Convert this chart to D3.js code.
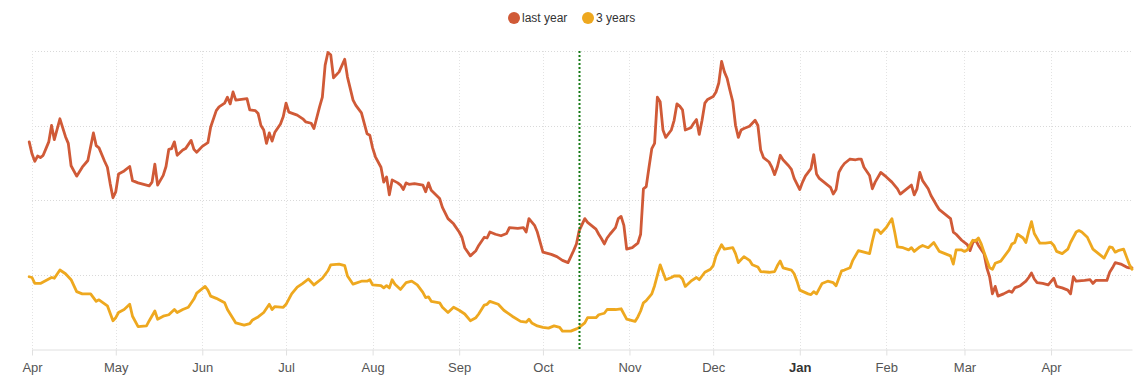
<!DOCTYPE html>
<html>
<head>
<meta charset="utf-8">
<script src="https://cdn.jsdelivr.net/npm/d3@7"></script>
<style>
  html, body { margin: 0; padding: 0; background: #fff; }
  svg { display: block; font-family: "Liberation Sans", Arial, sans-serif; }
</style>
</head>
<body>
<div id="chart"></div>
<script>
// period start; each point is [days after start, value]
var startDate = new Date(2022, 3, 1);
var endDate = new Date(2023, 3, 30);
var markerDate = new Date(2022, 9, 14);

var seriesNames = ["last year", "3 years"];
var seriesColors = ["#d05a37", "#eea81f"];

var lastYear = [[-1,2.78],[0,2.62],[1,2.52],[2,2.59],[3,2.57],[4,2.60],[5,2.69],[6,2.78],[7,3.00],[8,2.81],[10,3.09],[12,2.85],[13,2.76],[14,2.46],[16,2.32],[18,2.44],[20,2.53],[22,2.90],[23,2.73],[24,2.70],[26,2.52],[27,2.44],[28,2.22],[29,2.03],[30,2.11],[31,2.35],[33,2.39],[35,2.45],[36,2.26],[38,2.23],[42,2.19],[43,2.24],[44,2.48],[45,2.20],[47,2.33],[48,2.45],[49,2.68],[50,2.69],[51,2.78],[52,2.60],[54,2.67],[55,2.69],[57,2.80],[58,2.68],[59,2.64],[61,2.72],[63,2.77],[64,2.98],[66,3.20],[67,3.25],[69,3.30],[70,3.38],[71,3.29],[72,3.45],[73,3.34],[75,3.35],[77,3.36],[78,3.21],[80,3.20],[81,3.16],[82,3.00],[83,2.94],[84,2.76],[85,2.90],[86,2.79],[87,2.91],[89,3.02],[90,3.12],[91,3.30],[92,3.18],[95,3.14],[97,3.09],[98,3.05],[100,3.03],[101,2.96],[103,3.25],[104,3.38],[105,3.81],[106,3.98],[107,3.95],[108,3.64],[110,3.72],[112,3.89],[113,3.65],[115,3.34],[116,3.27],[118,3.17],[120,2.89],[121,2.87],[122,2.70],[123,2.58],[125,2.44],[126,2.24],[127,2.31],[128,2.07],[129,2.27],[131,2.23],[132,2.20],[133,2.14],[134,2.23],[135,2.21],[137,2.22],[140,2.20],[141,2.11],[142,2.23],[143,2.13],[146,2.02],[147,1.90],[149,1.75],[151,1.68],[153,1.57],[154,1.50],[155,1.36],[157,1.25],[159,1.32],[160,1.39],[162,1.50],[163,1.49],[164,1.57],[166,1.54],[168,1.52],[170,1.55],[171,1.63],[174,1.62],[176,1.63],[177,1.57],[178,1.75],[180,1.66],[181,1.57],[183,1.30],[186,1.27],[188,1.24],[190,1.19],[192,1.16],[194,1.32],[195,1.41],[196,1.59],[198,1.75],[199,1.70],[202,1.61],[203,1.54],[204,1.48],[205,1.41],[206,1.49],[207,1.54],[209,1.63],[210,1.75],[211,1.78],[212,1.66],[213,1.34],[215,1.36],[216,1.39],[217,1.42],[218,1.54],[219,2.15],[220,2.18],[221,2.44],[222,2.69],[223,2.76],[224,3.38],[225,3.32],[226,2.94],[227,2.84],[229,2.94],[230,3.07],[231,3.29],[232,3.26],[233,3.21],[234,2.94],[236,2.97],[237,3.03],[238,3.08],[239,2.88],[240,3.07],[241,3.30],[242,3.35],[244,3.39],[245,3.45],[246,3.57],[247,3.86],[248,3.72],[249,3.63],[250,3.47],[251,3.32],[252,3.00],[253,2.84],[254,2.94],[255,2.96],[257,2.99],[259,3.07],[260,3.00],[261,2.67],[262,2.57],[264,2.51],[265,2.44],[266,2.34],[267,2.45],[268,2.60],[269,2.54],[271,2.46],[272,2.41],[273,2.29],[275,2.14],[276,2.24],[277,2.32],[279,2.42],[280,2.61],[281,2.35],[282,2.29],[284,2.23],[286,2.17],[287,2.08],[288,2.14],[289,2.37],[290,2.44],[291,2.49],[293,2.55],[295,2.54],[296,2.55],[297,2.55],[298,2.44],[300,2.33],[301,2.15],[302,2.24],[304,2.37],[306,2.31],[308,2.24],[310,2.15],[311,2.08],[313,2.14],[315,2.20],[316,2.07],[317,2.15],[318,2.37],[319,2.26],[321,2.15],[322,2.06],[324,1.93],[325,1.87],[327,1.81],[329,1.75],[330,1.57],[331,1.54],[333,1.46],[335,1.40],[336,1.32],[337,1.43],[338,1.46],[339,1.39],[341,1.28],[342,1.09],[343,0.97],[344,0.74],[345,0.84],[346,0.71],[348,0.74],[350,0.78],[351,0.76],[352,0.82],[354,0.85],[356,0.91],[357,0.96],[358,1.02],[359,0.94],[360,0.89],[362,0.88],[364,0.86],[366,0.95],[367,0.84],[369,0.82],[371,0.79],[372,0.74],[373,0.97],[374,0.91],[377,0.92],[379,0.93],[380,0.88],[381,0.92],[385,0.92],[386,1.03],[387,1.09],[388,1.16],[390,1.14],[392,1.10],[393,1.09],[394,1.09]];

var threeYears = [[-1,0.97],[0,0.96],[1,0.88],[3,0.88],[5,0.92],[7,0.96],[8,0.95],[10,1.06],[12,1.01],[14,0.93],[16,0.77],[18,0.74],[21,0.74],[23,0.64],[24,0.66],[27,0.58],[29,0.38],[30,0.42],[31,0.49],[33,0.53],[35,0.60],[36,0.44],[38,0.30],[41,0.31],[42,0.38],[44,0.51],[45,0.40],[47,0.44],[49,0.46],[51,0.53],[52,0.49],[54,0.53],[56,0.56],[58,0.67],[59,0.75],[60,0.78],[62,0.84],[63,0.79],[64,0.71],[66,0.68],[69,0.62],[70,0.53],[73,0.35],[76,0.32],[78,0.34],[79,0.39],[81,0.43],[83,0.49],[85,0.60],[86,0.53],[87,0.57],[90,0.56],[91,0.60],[93,0.74],[95,0.83],[97,0.88],[99,0.94],[101,0.86],[102,0.89],[104,0.95],[106,1.05],[107,1.13],[110,1.14],[112,1.12],[113,0.98],[115,0.87],[118,0.91],[120,0.91],[121,0.93],[122,0.86],[125,0.85],[126,0.82],[127,0.85],[128,0.82],[129,0.93],[130,0.87],[132,0.80],[134,0.89],[136,0.91],[138,0.86],[140,0.76],[141,0.69],[142,0.70],[143,0.64],[146,0.62],[147,0.56],[149,0.49],[151,0.56],[153,0.52],[155,0.47],[157,0.38],[159,0.42],[160,0.47],[162,0.59],[163,0.60],[164,0.64],[167,0.60],[169,0.52],[172,0.44],[175,0.37],[177,0.36],[178,0.40],[179,0.35],[181,0.31],[183,0.29],[185,0.28],[187,0.31],[189,0.29],[190,0.24],[192,0.24],[193,0.24],[195,0.27],[196,0.29],[198,0.35],[199,0.42],[202,0.42],[203,0.46],[205,0.48],[206,0.53],[209,0.53],[211,0.54],[213,0.40],[214,0.39],[216,0.37],[217,0.43],[218,0.51],[219,0.62],[220,0.65],[222,0.74],[223,0.85],[225,1.13],[226,1.03],[227,0.93],[229,0.96],[230,0.98],[232,0.98],[233,0.94],[234,0.84],[236,0.91],[238,0.96],[239,0.93],[241,1.03],[243,1.07],[244,1.12],[245,1.25],[247,1.40],[248,1.34],[251,1.36],[252,1.28],[253,1.16],[255,1.24],[257,1.19],[258,1.13],[260,1.10],[261,1.04],[264,1.03],[266,1.04],[267,1.12],[268,1.18],[269,1.09],[272,1.06],[273,1.01],[274,0.91],[275,0.79],[278,0.74],[279,0.73],[280,0.77],[281,0.74],[283,0.88],[285,0.91],[287,0.89],[288,0.85],[290,1.05],[291,1.06],[293,1.09],[294,1.19],[296,1.32],[298,1.30],[300,1.28],[301,1.45],[302,1.60],[303,1.60],[304,1.55],[306,1.63],[308,1.75],[309,1.57],[310,1.37],[312,1.36],[314,1.33],[315,1.36],[316,1.31],[318,1.37],[319,1.39],[321,1.36],[323,1.43],[325,1.31],[327,1.28],[329,1.25],[330,1.14],[331,1.33],[333,1.33],[334,1.31],[335,1.33],[337,1.46],[338,1.45],[339,1.49],[340,1.41],[341,1.30],[343,1.09],[344,1.07],[345,1.15],[347,1.18],[348,1.23],[350,1.33],[351,1.41],[352,1.43],[353,1.54],[355,1.49],[356,1.43],[357,1.58],[358,1.71],[359,1.55],[361,1.42],[363,1.42],[365,1.43],[366,1.39],[367,1.31],[369,1.28],[371,1.34],[372,1.43],[374,1.57],[375,1.59],[376,1.57],[378,1.50],[380,1.34],[382,1.28],[384,1.22],[386,1.37],[387,1.36],[388,1.30],[389,1.32],[391,1.34],[392,1.24],[393,1.14],[394,1.07]];

var yTicks = [0, 1, 2, 3, 4];

var width = 1147, height = 388;
var margin = {top: 51, right: 15, bottom: 39, left: 32};

var svg = d3.select("#chart").append("svg")
    .attr("width", width)
    .attr("height", height);

var x = d3.scaleTime()
    .domain([startDate, endDate])
    .range([margin.left, width - margin.right]);

var y = d3.scaleLinear()
    .domain([0, 4])
    .range([height - margin.bottom, margin.top]);

var toDate = function(d) { return d3.timeDay.offset(startDate, d[0]); };

var months = x.ticks(d3.timeMonth.every(1));

// grid
svg.append("g").selectAll("line")
    .data(yTicks.slice(1))
  .enter().append("line")
    .attr("x1", x.range()[0]).attr("x2", x.range()[1])
    .attr("y1", function(d){ return Math.round(y(d)) + 0.5; })
    .attr("y2", function(d){ return Math.round(y(d)) + 0.5; })
    .attr("stroke", "#d9d9d9")
    .attr("stroke-dasharray", "1,2");

svg.append("g").selectAll("line")
    .data(months)
  .enter().append("line")
    .attr("x1", function(d){ return Math.round(x(d)) + 0.5; })
    .attr("x2", function(d){ return Math.round(x(d)) + 0.5; })
    .attr("y1", y(4)).attr("y2", y(0))
    .attr("stroke", "#e3e3e3")
    .attr("stroke-dasharray", "1,2");

// x axis
var xAxis = d3.axisBottom(x)
    .tickValues(months)
    .tickSize(6)
    .tickSizeOuter(0)
    .tickPadding(7)
    .tickFormat(d3.timeFormat("%b"));

var gx = svg.append("g")
    .attr("transform", "translate(0," + (Math.round(y(0)) + 0.5) + ")")
    .call(xAxis);
gx.select(".domain").attr("stroke", "#e0e0e0");
gx.selectAll(".tick line").attr("stroke", "#e0e0e0");
gx.selectAll(".tick text")
    .style("font-size", "13px")
    .style("font-family", "'Liberation Sans', Arial, sans-serif")
    .style("font-weight", function(d){ return d.getMonth() === 0 ? "bold" : "normal"; })
    .attr("fill", function(d){ return d.getMonth() === 0 ? "#333" : "#555"; });

// lines
var line = d3.line()
    .x(function(d){ return x(toDate(d)); })
    .y(function(d){ return y(d[1]); });

[lastYear, threeYears].forEach(function(data, i) {
  svg.append("path")
    .datum(data)
    .attr("fill", "none")
    .attr("stroke", seriesColors[i])
    .attr("stroke-width", 2.8)
    .attr("stroke-linejoin", "round")
    .attr("stroke-linecap", "round")
    .attr("d", line);
});

// marker line
svg.append("line")
    .attr("x1", Math.round(x(markerDate)) + 0.5)
    .attr("x2", Math.round(x(markerDate)) + 0.5)
    .attr("y1", y(4)).attr("y2", y(0))
    .attr("stroke", "#157a15")
    .attr("stroke-width", 2)
    .attr("stroke-dasharray", "2,2");

// legend
var legend = svg.append("g").attr("transform", "translate(514,18)");
var offsets = [0, 74];
seriesNames.forEach(function(name, i) {
  var g = legend.append("g").attr("transform", "translate(" + offsets[i] + ",0)");
  g.append("circle").attr("r", 6).attr("fill", seriesColors[i]);
  g.append("text")
    .attr("x", 8).attr("y", 4)
    .style("font-size", "12px")
    .attr("fill", "#333")
    .text(name);
});
</script>
</body>
</html>
